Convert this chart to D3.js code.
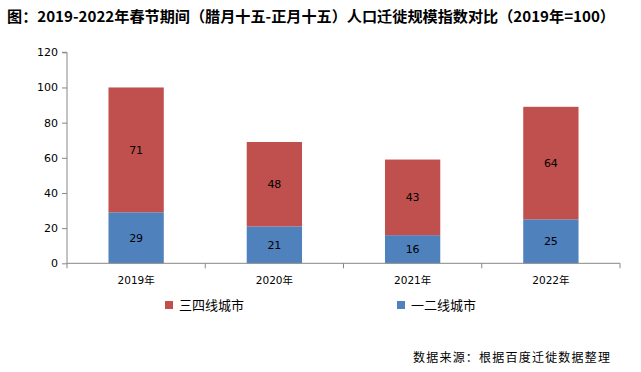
<!DOCTYPE html>
<html><head><meta charset="utf-8">
<script src="https://cdn.jsdelivr.net/npm/d3@7/dist/d3.min.js"></script>
<style>body{margin:0;background:#fff}</style>
</head><body>
<svg id="c" width="641" height="372"></svg>
<script>
const categories = ["2019年","2020年","2021年","2022年"];
const tier12 = [29,21,16,25];
const tier34 = [71,48,43,64];
const yTicks = [0,20,40,60,80,100,120];
const seriesNames = ["三四线城市","一二线城市"];
const colors = {t12:"#4F81BD", t34:"#C0504D"};

const svg = d3.select("#c");
const m = {l:67, r:620, t:52.3, b:263.3};
const x = d3.scaleBand().domain(categories).range([m.l,m.r]).paddingInner(0.6).paddingOuter(0.3);
const y = d3.scaleLinear().domain([0,120]).range([m.b,m.t]);

svg.append("text").attr("x",7).attr("y",22).attr("font-family","Noto Sans CJK SC").attr("font-weight","bold")
  .attr("font-size",15).attr("fill","#000").attr("textLength",608).attr("lengthAdjust","spacingAndGlyphs")
  .text("图：2019-2022年春节期间（腊月十五-正月十五）人口迁徙规模指数对比（2019年=100）");

// bars
const g = svg.append("g");
categories.forEach((c,i)=>{
  g.append("rect").attr("x",x(c)).attr("width",x.bandwidth()).attr("y",y(tier12[i])).attr("height",y(0)-y(tier12[i])).attr("fill",colors.t12);
  g.append("rect").attr("x",x(c)).attr("width",x.bandwidth()).attr("y",y(tier12[i]+tier34[i])).attr("height",y(tier12[i])-y(tier12[i]+tier34[i])).attr("fill",colors.t34);
  g.append("text").attr("x",x(c)+x.bandwidth()/2).attr("y",(y(0)+y(tier12[i]))/2).attr("dy","0.36em")
    .attr("text-anchor","middle").attr("font-family","DejaVu Sans").attr("font-size",11).text(tier12[i]);
  g.append("text").attr("x",x(c)+x.bandwidth()/2).attr("y",(y(tier12[i])+y(tier12[i]+tier34[i]))/2).attr("dy","0.36em")
    .attr("text-anchor","middle").attr("font-family","DejaVu Sans").attr("font-size",11).text(tier34[i]);
});

// y axis
const ya = svg.append("g").attr("transform",`translate(${m.l},0)`)
  .call(d3.axisLeft(y).tickValues(yTicks).tickSize(5).tickPadding(4));
ya.select(".domain").attr("stroke","#868686").attr("d",`M-5,${m.t}H0V${m.b}`);
ya.selectAll(".tick line").attr("stroke","#868686");
ya.selectAll(".tick text").attr("font-family","DejaVu Sans").attr("font-size",11).attr("fill","#000");

// x axis
const xa = svg.append("g").attr("transform",`translate(0,${m.b})`)
  .call(d3.axisBottom(x).tickSize(0).tickPadding(13));
xa.select(".domain").attr("stroke","#868686").attr("d",`M${m.l},0H${m.r}`);
xa.selectAll(".tick text").attr("font-family","DejaVu Sans, Noto Sans CJK SC").attr("font-size",10.5).attr("fill","#000");
const step = x.step();
d3.range(categories.length+1).forEach(k=>{
  const xx = m.l + k*step;
  xa.append("line").attr("x1",xx).attr("x2",xx).attr("y1",0).attr("y2",5).attr("stroke","#868686");
});

// legend
const leg = [{n:seriesNames[0],c:colors.t34,x:165},{n:seriesNames[1],c:colors.t12,x:397}];
leg.forEach(d=>{
  svg.append("rect").attr("x",d.x).attr("y",301).attr("width",8).attr("height",8).attr("fill",d.c);
  svg.append("text").attr("x",d.x+14).attr("y",310).attr("font-family","Noto Sans CJK SC").attr("font-size",13).attr("fill","#000").text(d.n);
});

svg.append("text").attr("x",413).attr("y",362).attr("font-family","Noto Sans CJK SC").attr("font-size",12)
  .attr("textLength",197).attr("lengthAdjust","spacing").text("数据来源：根据百度迁徙数据整理");
</script>
</body></html>
